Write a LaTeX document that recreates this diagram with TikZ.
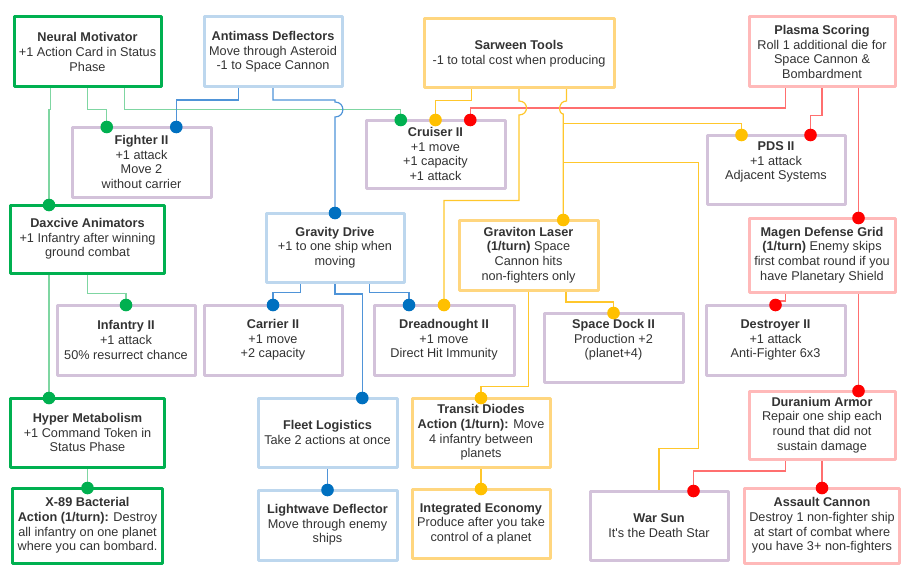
\documentclass[tikz,border=0pt]{standalone}
\usepackage{fontspec}
\setmainfont{Liberation Sans}
\usetikzlibrary{backgrounds}
\definecolor{grnE}{HTML}{00B050}
\definecolor{bluE}{HTML}{BDD7EE}
\definecolor{ylwE}{HTML}{FFD67F}
\definecolor{redE}{HTML}{FFB9B9}
\definecolor{purE}{HTML}{D3C2DA}
\definecolor{grnW}{HTML}{7FD6A2}
\definecolor{bluW}{HTML}{4F94D8}
\definecolor{ylwW}{HTML}{FFC72C}
\definecolor{redW}{HTML}{FF6F6F}
\definecolor{grnD}{HTML}{00B050}
\definecolor{bluD}{HTML}{0070C0}
\definecolor{ylwD}{HTML}{FFC000}
\definecolor{redD}{HTML}{FF0000}
\definecolor{txt}{HTML}{333333}
\tikzset{
	boxtext/.style={align=center, text=txt},
	techbox/.style={draw, fill=white, line width=3pt, outer sep=0pt, inner sep=2pt,
		minimum width=139pt, minimum height=70pt, boxtext},
	greenbox/.style={techbox, draw=grnE},
	bluebox/.style={techbox, draw=bluE},
	yellowbox/.style={techbox, draw=ylwE},
	redbox/.style={techbox, draw=redE},
	unitbox/.style={techbox, draw=purE},
	greenwire/.style={draw=grnW, line width=1.2pt},
	bluewire/.style={draw=bluW, line width=1.2pt},
	yellowwire/.style={draw=ylwW, line width=1.2pt},
	redwire/.style={draw=redW, line width=1.2pt},
}
\begin{document}
\begin{tikzpicture}[x=1pt, y=-1pt, font=\fontsize{12.7pt}{14.7pt}\selectfont, line join=round, line cap=round]
	\useasboundingbox (0,0) rectangle (909,575);
	\node[greenbox, minimum width=147pt] (neural) at (87.5,52) {\textbf{Neural Motivator}\\+1 Action Card in Status\\Phase};
	\node[bluebox, minimum width=138pt] (antimass) at (273,52) {\textbf{Antimass Deflectors}\\Move through Asteroid\\-1 to Space Cannon};
	\node[yellowbox, minimum width=190pt, minimum height=69pt] (sarween) at (519,53.5) {\textbf{Sarween Tools}\\-1 to total cost when producing};
	\node[redbox, minimum width=146pt] (plasma) at (822,52) {\textbf{Plasma Scoring}\\Roll 1 additional die for\\Space Cannon \&\\Bombardment};
	\node[unitbox] (fighter) at (141.5,162) {\textbf{Fighter II}\\+1 attack\\Move 2\\without carrier};
	\node[unitbox, minimum height=68pt] (cruiser) at (435.5,154) {\textbf{Cruiser II}\\+1 move\\+1 capacity\\+1 attack};
	\node[unitbox, minimum width=138pt, minimum height=69pt,
		label={[boxtext, yshift=7.5pt]center:{\textbf{PDS II}\\+1 attack\\Adjacent Systems}}] (pds) at (776,169.5) {};
	\node[greenbox, minimum width=154pt, minimum height=68pt] (daxcive) at (87.5,239) {\textbf{Daxcive Animators}\\+1 Infantry after winning\\ground combat};
	\node[bluebox, minimum width=138pt, minimum height=69pt] (gravdrive) at (335,247.5) {\textbf{Gravity Drive}\\+1 to one ship when\\moving};
	\node[yellowbox] (gravlaser) at (528.5,255) {\textbf{Graviton Laser}\\\textbf{(1/turn)} Space\\Cannon hits\\non-fighters only};
	\node[redbox, minimum width=146pt, minimum height=74pt] (magen) at (822,255) {\textbf{Magen Defense Grid}\\\textbf{(1/turn)} Enemy skips\\first combat round if you\\have Planetary Shield};
	\node[unitbox, minimum width=138pt] (infantry) at (126,340) {\textbf{Infantry II}\\+1 attack\\50\% resurrect chance};
	\node[unitbox, minimum width=138pt] (carrier) at (273,340) {\textbf{Carrier II}\\+1 move\\+2 capacity};
	\node[unitbox, minimum width=140pt] (dread) at (444,340) {\textbf{Dreadnought II}\\+1 move\\Direct Hit Immunity};
	\node[unitbox, minimum height=69pt,
		label={[boxtext, yshift=7.5pt]center:{\textbf{Space Dock II}\\Production +2\\(planet+4)}}] (spacedock) at (613.5,347.5) {};
	\node[unitbox] (destroyer) at (775.5,340) {\textbf{Destroyer II}\\+1 attack\\Anti-Fighter 6x3};
	\node[greenbox, minimum width=154pt, minimum height=69pt] (hyper) at (87.5,432.5) {\textbf{Hyper Metabolism}\\+1 Command Token in\\Status Phase};
	\node[bluebox, minimum height=69pt] (fleet) at (327.5,432.5) {\textbf{Fleet Logistics}\\Take 2 actions at once};
	\node[yellowbox, minimum width=138pt, minimum height=69pt] (transit) at (481,432.5) {\textbf{Transit Diodes}\\\textbf{Action (1/turn):} Move\\4 infantry between\\planets};
	\node[redbox, minimum width=146pt, minimum height=68pt] (duranium) at (822,425) {\textbf{Duranium Armor}\\Repair one ship each\\round that did not\\sustain damage};
	\node[greenbox, minimum width=150pt, minimum height=75pt] (bacterial) at (87.5,525.5) {\textbf{X-89 Bacterial}\\\textbf{Action (1/turn):} Destroy\\all infantry on one planet\\where you can bombard.};
	\node[bluebox] (lightwave) at (327.5,525) {\textbf{Lightwave Deflector}\\Move through enemy\\ships};
	\node[yellowbox, minimum width=138pt, minimum height=69pt] (economy) at (481,523.5) {\textbf{Integrated Economy}\\Produce after you take\\control of a planet};
	\node[unitbox, minimum width=138pt, minimum height=69pt] (warsun) at (659,525.5) {\textbf{War Sun}\\It\textquotesingle s the Death Star};
	\node[redbox, minimum width=155pt, minimum height=75pt] (assault) at (822,525.5) {\textbf{Assault Cannon}\\Destroy 1 non-fighter ship\\at start of combat where\\you have 3+ non-fighters};
	\coordinate (pdstap) at (563.25,123.5);
	\coordinate (suntap) at (563.25,162.5);
	\begin{scope}[on background layer]
		\draw[greenwire] ([xshift=-36.75pt]neural.south) -- ++(0,22.5) -| ([xshift=-38.5pt]daxcive.north);
		\draw[greenwire] (neural.south) -- ++(0,22.5) -| ([xshift=-34.75pt]fighter.north);
		\draw[greenwire] ([xshift=36.75pt]neural.south) -- ++(0,22.5) -| ([xshift=-34.75pt]cruiser.north);
		\draw[greenwire] (daxcive.south) -- ++(0,20.5) -| (infantry.north);
		\draw[greenwire] ([xshift=-38.5pt]daxcive.south) -- ([xshift=-38.5pt]hyper.north);
		\draw[greenwire] (hyper.south) -- (bacterial.north);
		\draw[bluewire] ([xshift=-34.5pt]antimass.south) -- ++(0,13) -| ([xshift=34.75pt]fighter.north);
		\draw[bluewire] (antimass.south) -- ++(0,13) -| (335,102)
			.. controls (345.5,102) and (345.5,117) .. (335,117) -- (gravdrive.north);
		\draw[bluewire] ([xshift=-34.5pt]gravdrive.south) -- ++(0,10.5) -| (carrier.north);
		\draw[bluewire] (gravdrive.south) -- ++(0,12) -| ([xshift=34.75pt]fleet.north);
		\draw[bluewire] ([xshift=34.5pt]gravdrive.south) -- ++(0,10.5) -| ([xshift=-35pt]dread.north);
		\draw[bluewire] (fleet.south) -- (lightwave.north);
		\draw[redwire] ([xshift=-36.5pt]plasma.south) -- ++(0,21) -| ([xshift=34.75pt]cruiser.north);
		\draw[redwire] (plasma.south) -- ++(0,28.5) -| ([xshift=34.5pt]pds.north);
		\draw[redwire] ([xshift=36.5pt]plasma.south) -- ([xshift=36.5pt]magen.north);
		\draw[redwire] ([xshift=-36.5pt]magen.south) -- ++(0,9) -| (destroyer.north);
		\draw[redwire] ([xshift=36.5pt]magen.south) -- ([xshift=36.5pt]duranium.north);
		\draw[redwire] ([xshift=-36.5pt]duranium.south) -- ++(0,12) -| ([xshift=34.5pt]warsun.north);
		\draw[redwire] (duranium.south) -- (assault.north);
		\draw[yellowwire] ([xshift=-47.5pt]sarween.south) -- ++(0,12.5) -| (cruiser.north);
		\draw[yellowwire] (sarween.south) -- (519,101)
			.. controls (529,101) and (529,115) .. (519,115) |- (444,200.5) -- (dread.north);
		\draw[yellowwire] ([xshift=47.5pt]sarween.south) -- (566.5,101)
			.. controls (558,101) and (558,114) .. (563.25,114) -- ([xshift=34.75pt]gravlaser.north);
		\draw[yellowwire] (pdstap) -| ([xshift=-34.5pt]pds.north);
		\draw[yellowwire] (suntap) -| (698.5,448.5) -| (warsun.north);
		\draw[yellowwire] (gravlaser.south) -- ++(0,96.5) -| (transit.north);
		\draw[yellowwire] ([xshift=37.5pt]gravlaser.south) -- ++(0,12) -| (spacedock.north);
		\draw[yellowwire] (transit.south) -- (economy.north);
	\end{scope}
	\fill[grnD] ([xshift=-38.5pt]daxcive.north) circle (6.3pt);
	\fill[grnD] ([xshift=-34.75pt]fighter.north) circle (6.3pt);
	\fill[grnD] ([xshift=-34.75pt]cruiser.north) circle (6.3pt);
	\fill[grnD] (infantry.north) circle (6.3pt);
	\fill[grnD] ([xshift=-38.5pt]hyper.north) circle (6.3pt);
	\fill[grnD] (bacterial.north) circle (6.3pt);
	\fill[bluD] ([xshift=34.75pt]fighter.north) circle (6.3pt);
	\fill[bluD] (gravdrive.north) circle (6.3pt);
	\fill[bluD] (carrier.north) circle (6.3pt);
	\fill[bluD] ([xshift=34.75pt]fleet.north) circle (6.3pt);
	\fill[bluD] ([xshift=-35pt]dread.north) circle (6.3pt);
	\fill[bluD] (lightwave.north) circle (6.3pt);
	\fill[ylwD] (cruiser.north) circle (6.3pt);
	\fill[ylwD] (dread.north) circle (6.3pt);
	\fill[ylwD] ([xshift=34.75pt]gravlaser.north) circle (6.3pt);
	\fill[ylwD] ([xshift=-34.5pt]pds.north) circle (6.3pt);
	\fill[ylwD] (transit.north) circle (6.3pt);
	\fill[ylwD] (spacedock.north) circle (6.3pt);
	\fill[ylwD] (economy.north) circle (6.3pt);
	\fill[redD] ([xshift=34.75pt]cruiser.north) circle (6.3pt);
	\fill[redD] ([xshift=34.5pt]pds.north) circle (6.3pt);
	\fill[redD] ([xshift=36.5pt]magen.north) circle (6.3pt);
	\fill[redD] (destroyer.north) circle (6.3pt);
	\fill[redD] ([xshift=36.5pt]duranium.north) circle (6.3pt);
	\fill[redD] ([xshift=34.5pt]warsun.north) circle (6.3pt);
	\fill[redD] (assault.north) circle (6.3pt);
\end{tikzpicture}
\end{document}
